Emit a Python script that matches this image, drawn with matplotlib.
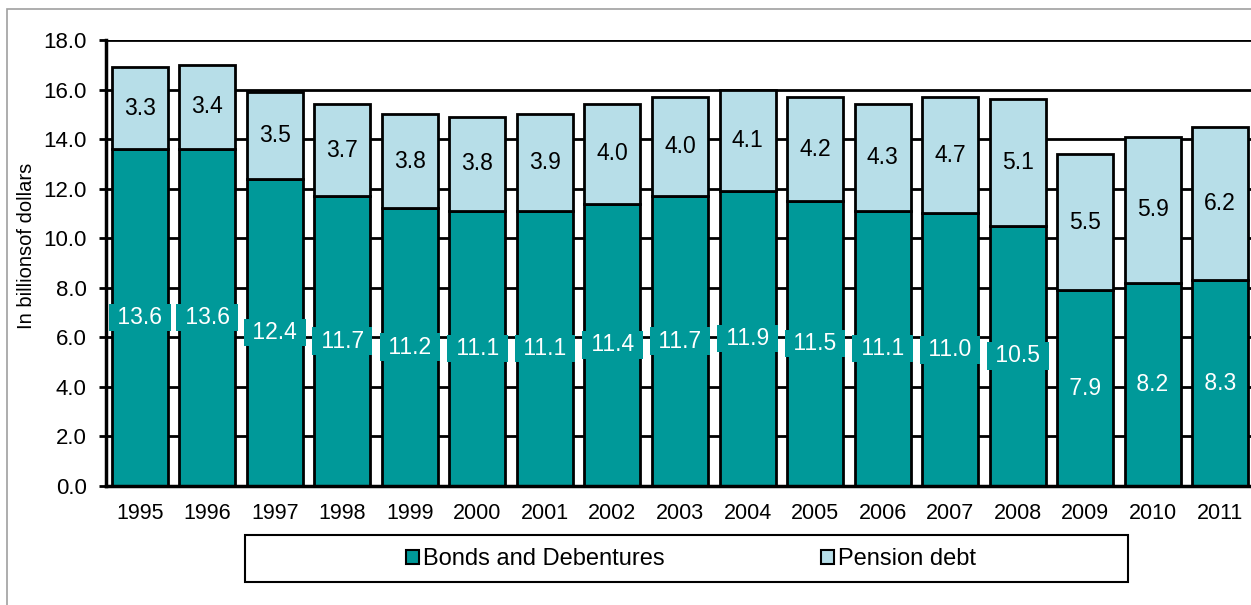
import matplotlib
matplotlib.use("Agg")
import matplotlib.pyplot as plt
from matplotlib.patches import Rectangle, Patch

plt.rcParams["font.family"] = ["Liberation Sans", "DejaVu Sans"]

years = [str(y) for y in range(1995, 2012)]
bonds = [13.6, 13.6, 12.4, 11.7, 11.2, 11.1, 11.1, 11.4, 11.7, 11.9, 11.5, 11.1, 11.0, 10.5, 7.9, 8.2, 8.3]
pension = [3.3, 3.4, 3.5, 3.7, 3.8, 3.8, 3.9, 4.0, 4.0, 4.1, 4.2, 4.3, 4.7, 5.1, 5.5, 5.9, 6.2]

TEAL = "#009999"
LIGHT = "#b7dee8"
W, H = 1251, 605

fig = plt.figure(figsize=(W / 100, H / 100), dpi=100)
# outer chart-area border (runs off the right/bottom edge)
fig.patches.append(Rectangle((7 / W, -0.1), 1.2, 1 - 9 / H + 0.1, transform=fig.transFigure,
                             fill=False, ec="#a0a0a0", lw=1.2))
ax = fig.add_axes([106 / W, 1 - 486 / H, 1148 / W, 446 / H])

x = range(len(years))
ax.bar(x, bonds, 0.83, color=TEAL, ec="black", lw=2, zorder=2)
ax.bar(x, pension, 0.83, bottom=bonds, color=LIGHT, ec="black", lw=2, zorder=2)

for i in x:
    ax.text(i, bonds[i] / 2, f" {bonds[i]:.1f} ", ha="center", va="center", color="white",
            fontsize=16.5, zorder=4,
            bbox=dict(boxstyle="square,pad=0.1", fc=TEAL, ec="none"))
    ax.text(i, bonds[i] + pension[i] / 2, f"{pension[i]:.1f}", ha="center", va="center",
            color="black", fontsize=16.5, zorder=4)

ax.set_xlim(-0.5, len(years) - 0.5)
ax.set_ylim(0, 18)
ax.set_yticks([0, 2, 4, 6, 8, 10, 12, 14, 16, 18])
ax.set_yticklabels([f"{v:.1f}" for v in ax.get_yticks()], fontsize=16)
ax.set_xticks(list(x))
ax.set_xticklabels(years, fontsize=15.5)
ax.tick_params(axis="x", length=0, pad=12)
ax.tick_params(axis="y", length=5, width=2, direction="out", pad=9)
ax.yaxis.grid(True, color="black", lw=2, zorder=0)
ax.set_axisbelow(True)
for s in ["top", "right"]:
    ax.spines[s].set_visible(False)
ax.spines["left"].set_linewidth(2.5)
ax.spines["bottom"].set_linewidth(2.5)
ax.set_ylabel("In billionsof dollars", fontsize=14.5)
ax.yaxis.set_label_coords(-0.061, 0.538)

# legend box
fig.patches.append(Rectangle((245 / W, 1 - 582 / H), 883 / W, 47 / H, transform=fig.transFigure,
                             fill=False, ec="black", lw=1.5))
handles = [Patch(fc=TEAL, ec="black", lw=1.5), Patch(fc=LIGHT, ec="black", lw=1.5)]
fig.legend(handles, ["Bonds and Debentures", "Pension debt"], loc="center",
           bbox_to_anchor=(691 / W, 1 - 559 / H), ncol=2, frameon=False, fontsize=17,
           handlelength=0.55, handleheight=0.55, handletextpad=0.17, columnspacing=6.6)

fig.savefig("out.png", dpi=100)
